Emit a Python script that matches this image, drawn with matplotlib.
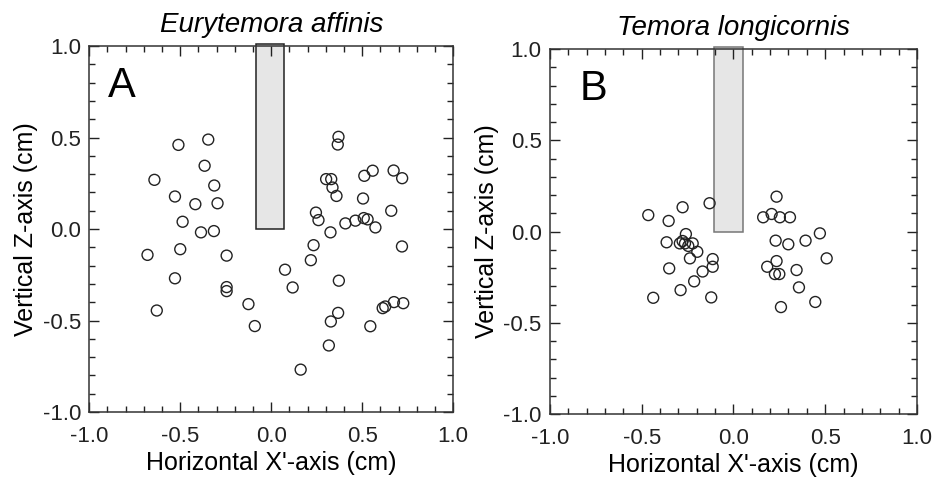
import numpy as np
import matplotlib.pyplot as plt
from matplotlib.patches import Rectangle
from matplotlib.ticker import MultipleLocator

plt.rcParams['font.family'] = ['Liberation Sans', 'DejaVu Sans']

# 패널 A: Eurytemora affinis
a_x = [-0.51, -0.346, -0.642, -0.366, -0.313, -0.529, -0.417, -0.295, -0.487, -0.386,
       -0.315, -0.68, -0.50, -0.245, -0.529, -0.245, -0.245, -0.629, -0.125, -0.09,
       0.37, 0.366, 0.558, 0.512, 0.673, 0.72, 0.302, 0.33, 0.337, 0.359,
       0.505, 0.246, 0.26, 0.326, 0.408, 0.463, 0.509, 0.53, 0.573, 0.66,
       0.719, 0.233, 0.218, 0.076, 0.118, 0.372, 0.368, 0.328, 0.545, 0.613,
       0.627, 0.675, 0.726, 0.317, 0.162]
a_z = [0.46, 0.489, 0.269, 0.346, 0.238, 0.178, 0.136, 0.141, 0.04, -0.018,
       -0.011, -0.141, -0.11, -0.145, -0.269, -0.317, -0.339, -0.445, -0.41, -0.53,
       0.504, 0.462, 0.319, 0.291, 0.32, 0.278, 0.273, 0.273, 0.227, 0.181,
       0.167, 0.09, 0.049, -0.018, 0.031, 0.046, 0.06, 0.053, 0.009, 0.10,
       -0.095, -0.088, -0.17, -0.222, -0.319, -0.282, -0.458, -0.505, -0.531, -0.432,
       -0.423, -0.399, -0.405, -0.636, -0.768]

# 패널 B: Temora longicornis
b_x = [-0.464, -0.277, -0.353, -0.13, -0.364, -0.259, -0.292, -0.277, -0.264, -0.246,
       -0.222, -0.197, -0.237, -0.113, -0.113, -0.35, -0.168, -0.214, -0.288, -0.437,
       -0.121,
       0.235, 0.162, 0.208, 0.253, 0.308, 0.471, 0.23, 0.299, 0.393, 0.508,
       0.235, 0.184, 0.226, 0.25, 0.344, 0.357, 0.446, 0.259]
b_z = [0.09, 0.133, 0.058, 0.155, -0.059, -0.014, -0.065, -0.052, -0.065, -0.079,
       -0.065, -0.111, -0.147, -0.151, -0.193, -0.202, -0.219, -0.273, -0.321, -0.363,
       -0.361,
       0.191, 0.078, 0.096, 0.078, 0.078, -0.01, -0.05, -0.07, -0.05, -0.147,
       -0.162, -0.193, -0.233, -0.233, -0.211, -0.306, -0.386, -0.414]

titles = ['Eurytemora affinis', 'Temora longicornis']
letters = ['A', 'B']
letter_x = [-0.9, -0.84]
tube = [(-0.083, 0.073), (-0.106, 0.05)]   # 흡입관 위치 (x 범위)
tube_edge = ['#222222', '#777777']

fig = plt.figure(figsize=(9.4, 4.9), dpi=100)
ax_a = fig.add_axes([0.095, 0.159, 0.387, 0.747])
ax_b = fig.add_axes([0.585, 0.155, 0.3905, 0.745])

for i, (ax, xs, zs) in enumerate([(ax_a, a_x, a_z), (ax_b, b_x, b_z)]):
    x0, x1 = tube[i]
    ax.add_patch(Rectangle((x0, 0.0), x1 - x0, 1.01, facecolor='#e6e6e6',
                           edgecolor=tube_edge[i], lw=1.1, clip_on=False, zorder=1))
    ax.scatter(xs, zs, s=62, facecolors='none', edgecolors='#222222', linewidths=1.0, zorder=3)
    ax.set_xlim(-1, 1)
    ax.set_ylim(-1, 1)
    ax.xaxis.set_major_locator(MultipleLocator(0.5))
    ax.yaxis.set_major_locator(MultipleLocator(0.5))
    ax.xaxis.set_minor_locator(MultipleLocator(0.1))
    ax.yaxis.set_minor_locator(MultipleLocator(0.1))
    ax.xaxis.set_major_formatter(lambda v, p: '%.1f' % v)
    ax.yaxis.set_major_formatter(lambda v, p: '%.1f' % v)
    ax.tick_params(which='both', direction='in', top=True, right=True, labelsize=16,
                   colors='#222222', width=1)
    ax.tick_params(which='major', length=7)
    ax.tick_params(axis='x', which='major', pad=10)
    ax.tick_params(axis='y', which='major', pad=6)
    ax.tick_params(which='minor', length=4)
    for s in ax.spines.values():
        s.set_color('#333333')
        s.set_linewidth(1.1)
    ax.set_title(titles[i], fontsize=20, style='italic', pad=10)
    ax.set_xlabel("Horizontal X'-axis (cm)", fontsize=18, labelpad=3)
    ax.set_ylabel('Vertical Z-axis (cm)', fontsize=18, labelpad=3)
    ax.text(letter_x[i], 0.78, letters[i], fontsize=30, va='center', ha='left')

fig.savefig('out.png', dpi=100)
